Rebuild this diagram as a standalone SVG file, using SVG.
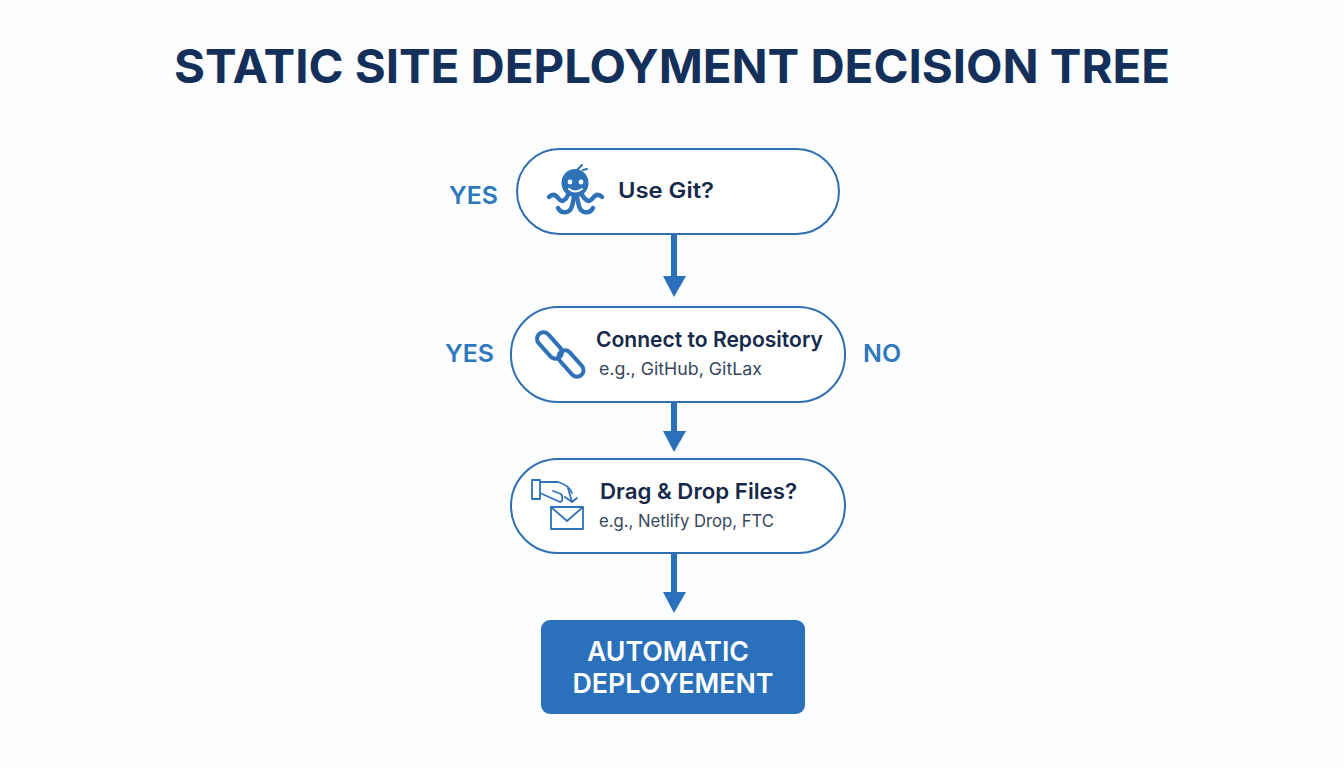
<svg xmlns="http://www.w3.org/2000/svg" width="1344" height="768" viewBox="0 0 1344 768">
<style>
text{font-family:Inter,"Liberation Sans",sans-serif}
.node{fill:#fff;stroke:#2f6fb0;stroke-width:2}
.h{font-size:22px;font-weight:600;fill:#16294a}
.s{font-size:17px;font-weight:400;fill:#37465c}
.lab{font-size:24px;font-weight:600;fill:#2f78bd}
.ln{fill:none;stroke:#2a70ba;stroke-width:6}
.ah{fill:#2a70ba}
.ic{fill:none;stroke:#2f72b8;stroke-linecap:round;stroke-linejoin:round}
</style>
<rect width="1344" height="768" fill="#fcfdfe"/>
<text id="title" x="672" y="83" text-anchor="middle" font-size="47" font-weight="700" fill="#14305a" textLength="996" lengthAdjust="spacingAndGlyphs">STATIC SITE DEPLOYMENT DECISION TREE</text>
<g id="connectors">
<path class="ln" d="M674 234V276"/><path class="ah" d="M663 276H686L674 297Z"/>
<path class="ln" d="M674 402V432"/><path class="ah" d="M663 431H686L674 452Z"/>
<path class="ln" d="M674 553V593"/><path class="ah" d="M663 592H686L674 613Z"/>
</g>
<g id="n1">
<rect class="node" x="517" y="149" width="322" height="85" rx="42.5"/>
<g>
<ellipse cx="575" cy="183" rx="13.5" ry="14" fill="#2f72b8"/>
<path class="ic" stroke-width="2" d="M577 170L582 165M583 170L587 169"/>
<g class="ic" stroke-width="4.5">
<path d="M549 197C553 193 556 195 559 199C562 203 566 200 568 195"/>
<path d="M602 197C598 193 595 195 592 199C589 203 585 200 582 195"/>
<path d="M558 208C561 214 570 214 572 206C573 202 574 199 574 196"/>
<path d="M593 208C590 214 581 214 579 206C578 202 577 199 577 196"/>
</g>
<circle cx="570" cy="182" r="2.4" fill="#fff"/><circle cx="581" cy="182" r="2.4" fill="#fff"/>
<path d="M569 189Q575 194 582 189" fill="none" stroke="#fff" stroke-width="2" stroke-linecap="round"/>
</g>
<text class="h" x="618" y="198" textLength="96" lengthAdjust="spacingAndGlyphs">Use Git?</text>
</g>
<g id="n2">
<rect class="node" x="511" y="307" width="334" height="95" rx="47"/>
<g class="ic" stroke-width="4">
<rect x="534" y="339" width="31" height="13" rx="6.5" transform="rotate(48 549.5 345.5)"/>
<rect x="555.5" y="357" width="31" height="13" rx="6.5" transform="rotate(48 571 363.5)"/>
</g>
<text class="h" x="596" y="347" textLength="227" lengthAdjust="spacingAndGlyphs">Connect to Repository</text>
<text class="s" x="599" y="375" textLength="163" lengthAdjust="spacingAndGlyphs">e.g., GitHub, GitLax</text>
</g>
<g id="n3">
<rect class="node" x="511" y="459" width="334" height="94" rx="47"/>
<g class="ic" stroke-width="1.8">
<path d="M532 480H540V499H532Z"/>
<path d="M540 482H558C565 484 570 488 572 493M540 493L560 502C563 502 563 496 561 494L553 491"/>
<path d="M568 488L572 502M565 497L572 502L577 498"/>
<rect x="551" y="507" width="32" height="22"/>
<path d="M551 507L567 521L583 507"/>
</g>
<text class="h" x="600" y="499" textLength="197" lengthAdjust="spacingAndGlyphs">Drag &amp; Drop Files?</text>
<text class="s" x="599" y="527" textLength="175" lengthAdjust="spacingAndGlyphs">e.g., Netlify Drop, FTC</text>
</g>
<g id="n4">
<rect x="541" y="620" width="264" height="94" rx="9" fill="#2a70ba"/>
<text x="668" y="661" text-anchor="middle" font-size="27" font-weight="600" fill="#fff" textLength="162" lengthAdjust="spacingAndGlyphs">AUTOMATIC</text>
<text x="673" y="693" text-anchor="middle" font-size="27" font-weight="600" fill="#fff" textLength="201" lengthAdjust="spacingAndGlyphs">DEPLOYEMENT</text>
</g>
<text class="lab" x="449" y="204" textLength="49" lengthAdjust="spacingAndGlyphs">YES</text>
<text class="lab" x="445" y="362" textLength="49" lengthAdjust="spacingAndGlyphs">YES</text>
<text class="lab" x="863" y="362" textLength="38" lengthAdjust="spacingAndGlyphs">NO</text>
</svg>
